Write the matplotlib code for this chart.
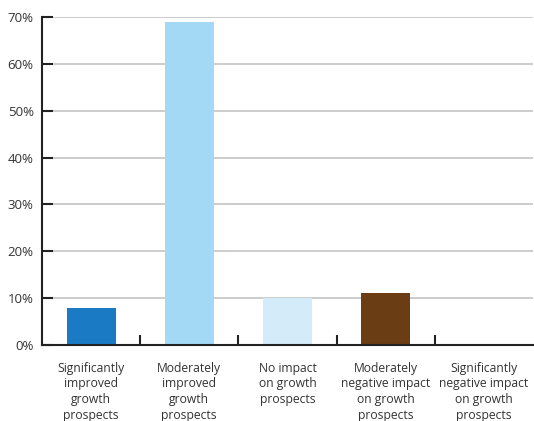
import matplotlib.pyplot as plt
import numpy as np

categories = [
    "Significantly\nimproved\ngrowth\nprospects",
    "Moderately\nimproved\ngrowth\nprospects",
    "No impact\non growth\nprospects",
    "Moderately\nnegative impact\non growth\nprospects",
    "Significantly\nnegative impact\non growth\nprospects",
]
values = [8, 69, 10, 11, 0.2]
colors = ["#1a7bc4", "#a3d9f5", "#d4ebf9", "#6b3d14", "#6b3d14"]
yticks = [0, 10, 20, 30, 40, 50, 60, 70]

plt.rcParams['font.family'] = ['Open Sans', 'DejaVu Sans']

fig = plt.figure(figsize=(5.34, 4.21), dpi=100)
ax = fig.add_axes([42 / 534, 1 - 345 / 421, 491 / 534, 328 / 421])

x = np.arange(len(categories))
ax.bar(x, values, width=0.5, color=colors, zorder=3)

ax.set_xlim(-0.5, len(categories) - 0.5)
ax.set_ylim(0, 70)
ax.set_yticks(yticks)
ax.set_yticklabels([f"{v}%" for v in yticks], fontsize=9.5, color="#333333")
ax.yaxis.grid(True, color="#c4c4c4", linewidth=1.2, zorder=0)

ax.set_xticks(np.arange(0.5, len(categories) - 0.5), minor=False)
ax.set_xticklabels([])
ax.set_xticks(x, minor=True)
ax.set_xticklabels(categories, minor=True, fontsize=8.7, color="#333333",
                   linespacing=1.27, va="top")
ax.tick_params(axis="x", which="major", direction="in", length=7, width=1.5, color="#222222")
ax.tick_params(axis="x", which="minor", length=0, pad=12)
ax.tick_params(axis="y", direction="in", length=8, width=1.5, color="#222222", pad=6)

for s in ["top", "right"]:
    ax.spines[s].set_visible(False)
for s in ["left", "bottom"]:
    ax.spines[s].set_linewidth(1.5)
    ax.spines[s].set_color("#222222")
    ax.spines[s].set_zorder(4)

fig.savefig("out.png", dpi=100)
